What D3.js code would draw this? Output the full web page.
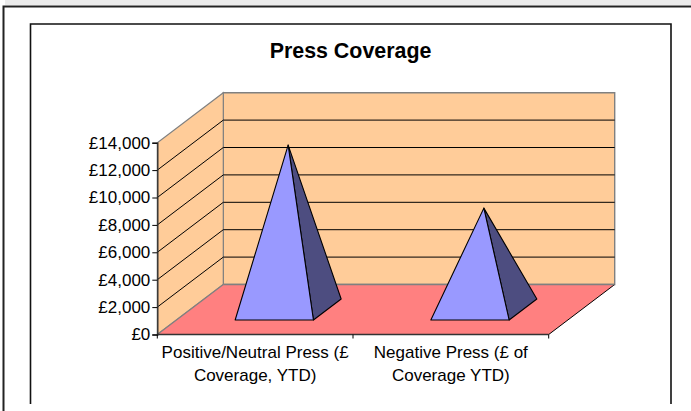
<!DOCTYPE html>
<html>
<head>
<meta charset="utf-8">
<script src="https://cdn.jsdelivr.net/npm/d3@7"></script>
<style>
html,body{margin:0;padding:0;background:#fff;overflow:hidden}
svg{display:block}
text{font-family:"Liberation Sans",Arial,sans-serif;fill:#000}
</style>
</head>
<body>
<svg id="chart" width="691" height="411"></svg>
<script>
const chartTitle = "Press Coverage";
const categories = ["Positive/Neutral Press (£ Coverage, YTD)", "Negative Press (£ of Coverage YTD)"];
const categoryLines = [["Positive/Neutral Press (£", "Coverage, YTD)"], ["Negative Press (£ of", "Coverage YTD)"]];
const values = [12000, 7400];
const yTicks = [0, 2000, 4000, 6000, 8000, 10000, 12000, 14000];

const svg = d3.select("#chart");

// Oblique projection: x along the category axis, z running into the page.
const y = d3.scaleLinear().domain([0, 14000]).range([334.5, 142.7]);
const x = d3.scaleBand().domain(categories).range([157.3, 548.7]);
const depthX = d3.scaleLinear().domain([0, 1]).range([0, 66]);
const depthY = d3.scaleLinear().domain([0, 1]).range([0, -50]);
const project = (px, value, z) => [px + depthX(z), y(value) + depthY(z)];
const poly = pts => d3.line()(pts) + "Z";

const left = x.range()[0], right = x.range()[1];
const maxV = y.domain()[1];

// Page furniture: top strip and the two frames
svg.append("rect").attr("x", 5).attr("y", 0).attr("width", 686).attr("height", 5).attr("fill", "#ebebeb");
svg.append("path").attr("d", "M3.5,411V6.5H691").attr("fill", "none").attr("stroke", "#222").attr("stroke-width", 2);
svg.append("path").attr("d", "M30.5,404V24H321H671V404").attr("fill", "none").attr("stroke", "#111").attr("stroke-width", 1.6);

svg.append("text").attr("x", 350.5).attr("y", 58).attr("text-anchor", "middle")
  .attr("font-size", 21.4).attr("font-weight", "bold").text(chartTitle);

// Walls and floor
svg.append("path")
  .attr("d", poly([project(left, 0, 1), project(right, 0, 1), project(right, maxV, 1), project(left, maxV, 1)]))
  .attr("fill", "#ffcc99").attr("stroke", "#808080").attr("stroke-width", 1.4);
svg.append("path")
  .attr("d", poly([project(left, 0, 0), project(left, 0, 1), project(left, maxV, 1), project(left, maxV, 0)]))
  .attr("fill", "#ffcc99").attr("stroke", "#808080").attr("stroke-width", 1.2);
svg.append("path")
  .attr("d", poly([project(left, 0, 0), project(right, 0, 0), project(right, 0, 1), project(left, 0, 1)]))
  .attr("fill", "#ff8080");

// Gridlines across side wall and back wall
const grid = yTicks.filter(t => t > 0 && t < maxV);
svg.append("g").selectAll("path").data(grid).join("path")
  .attr("d", t => d3.line()([project(left, t, 0), project(left, t, 1), project(right, t, 1)]))
  .attr("fill", "none").attr("stroke", "#000").attr("stroke-width", 1);

// Floor edges
svg.append("path").attr("d", d3.line()([project(right, 0, 0), project(right, 0, 1)]))
  .attr("stroke", "#000").attr("fill", "none");
svg.append("path").attr("d", d3.line()([project(left, 0, 0), project(left, 0, 1)]))
  .attr("stroke", "#808080").attr("stroke-width", 1.2).attr("fill", "none");
svg.append("path").attr("d", d3.line()([project(left, 0, 1), project(right, 0, 1)]))
  .attr("stroke", "#808080").attr("stroke-width", 1.4).attr("fill", "none");

// Pyramids: square base centred in the band and in the depth
const baseFrac = 0.4, zNear = 0.29, zFar = 0.71;
const marks = svg.append("g").selectAll("g").data(categories).join("g");
marks.each(function (c, i) {
  const g = d3.select(this);
  const cx = x(c) + x.bandwidth() / 2;
  const half = x.bandwidth() * baseFrac / 2;
  const apex = project(cx, values[i], 0.5);
  const fl = project(cx - half, 0, zNear);
  const fr = project(cx + half, 0, zNear);
  const br = project(cx + half, 0, zFar);
  g.append("path").attr("d", poly([fr, br, apex])).attr("fill", "#4d4d80")
    .attr("stroke", "#000").attr("stroke-width", 1.1).attr("stroke-linejoin", "round");
  g.append("path").attr("d", poly([fl, fr, apex])).attr("fill", "#9999ff")
    .attr("stroke", "#000").attr("stroke-width", 1.1).attr("stroke-linejoin", "round");
});

// Value axis
const yAxis = d3.axisLeft(y).tickValues(yTicks).tickSize(5).tickPadding(2)
  .tickFormat(d => "£" + d3.format(",")(d));
const yG = svg.append("g").attr("transform", `translate(${left},0)`).call(yAxis);
yG.select(".domain").attr("stroke", "#333").attr("stroke-width", 1.4);
yG.selectAll("line").attr("stroke", "#000");
yG.selectAll("text").attr("font-size", 17).style("font-family", '"Liberation Sans",Arial,sans-serif').attr("fill", "#000");

// Category axis: ticks on the band boundaries, labels centred under each band
const edges = categories.map(c => x(c)).concat(right);
svg.append("path").attr("d", d3.line()([[left, y(0)], [right, y(0)]]))
  .attr("stroke", "#333").attr("stroke-width", 1.4).attr("fill", "none");
svg.append("g").selectAll("line").data(edges).join("line")
  .attr("x1", d => d).attr("x2", d => d)
  .attr("y1", y(0)).attr("y2", y(0) + 4).attr("stroke", "#000");

const labels = svg.append("g").selectAll("text").data(categories).join("text")
  .attr("text-anchor", "middle").attr("font-size", 17);
labels.each(function (c, i) {
  d3.select(this).selectAll("tspan").data(categoryLines[i]).join("tspan")
    .attr("x", x(c) + x.bandwidth() / 2)
    .attr("y", (d, k) => 357.5 + k * 23.5)
    .text(d => d);
});
</script>
</body>
</html>
